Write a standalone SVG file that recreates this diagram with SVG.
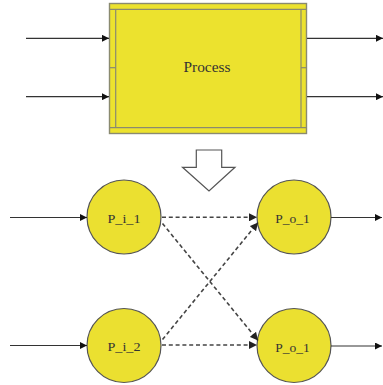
<svg xmlns="http://www.w3.org/2000/svg" width="383" height="385" viewBox="0 0 383 385">
<defs>
<marker id="ah" viewBox="0 0 10 10" refX="10" refY="5" markerWidth="7" markerHeight="7" markerUnits="userSpaceOnUse" orient="auto">
<path d="M0,0 L10,5 L0,10 Z" fill="#111"/>
</marker>
<marker id="ahd" viewBox="0 0 10 10" refX="10" refY="5" markerWidth="8" markerHeight="8" markerUnits="userSpaceOnUse" orient="auto">
<path d="M0,0 L10,5 L0,10 Z" fill="#222"/>
</marker>
</defs>
<style>
.solid{stroke:#333;stroke-width:1.2;fill:none;marker-end:url(#ah)}
.dash{stroke:#444;stroke-width:1.6;fill:none;stroke-dasharray:4 2.8;marker-end:url(#ahd)}
.circ{fill:#ebe030;stroke:#555;stroke-width:1.2}
.lbl{font-family:"Liberation Serif","DejaVu Serif",serif;font-size:13px;fill:#333;text-anchor:middle}
.inner{stroke:#8a8a70;stroke-width:1.2;fill:none}
</style>
<rect width="383" height="385" fill="#fff"/>
<g id="process">
<rect x="109.5" y="3.5" width="197" height="130" fill="#ece22e" stroke="#8a8a70" stroke-width="1.4"/>
<line class="inner" x1="109.5" y1="9.3" x2="306.5" y2="9.3"/>
<line class="inner" x1="109.5" y1="127.7" x2="306.5" y2="127.7"/>
<line class="inner" x1="115.7" y1="9.3" x2="115.7" y2="127.7"/>
<line class="inner" x1="301" y1="9.3" x2="301" y2="127.7"/>
<line class="inner" x1="109.5" y1="67.7" x2="115.7" y2="67.7"/>
<line class="inner" x1="301" y1="67.7" x2="306.5" y2="67.7"/>
<text x="207" y="72" class="lbl" style="font-size:15px" textLength="47" lengthAdjust="spacingAndGlyphs">Process</text>
</g>
<g id="transform-arrow">
<path d="M196.3,150 L221.7,150 L221.7,167.3 L235,167.3 L209,191 L182.5,167.3 L196.3,167.3 Z" fill="#fff" stroke="#555" stroke-width="1.2"/>
</g>
<g id="P_i_1">
<circle class="circ" cx="124" cy="217" r="37"/>
<text x="124" y="222.5" class="lbl" textLength="33" lengthAdjust="spacingAndGlyphs">P_i_1</text>
</g>
<g id="P_i_2">
<circle class="circ" cx="124" cy="345.5" r="37"/>
<text x="124" y="351" class="lbl" textLength="33" lengthAdjust="spacingAndGlyphs">P_i_2</text>
</g>
<g id="P_o_1_top">
<circle class="circ" cx="294" cy="217" r="37"/>
<text x="292.5" y="223" class="lbl" textLength="34.5" lengthAdjust="spacingAndGlyphs">P_o_1</text>
</g>
<g id="P_o_1_bottom">
<circle class="circ" cx="294" cy="345.5" r="37"/>
<text x="292.5" y="351.5" class="lbl" textLength="34.5" lengthAdjust="spacingAndGlyphs">P_o_1</text>
</g>
<g id="connectors">
<line class="solid" x1="26" y1="38.3" x2="109" y2="38.3"/>
<line class="solid" x1="26" y1="96.7" x2="109" y2="96.7"/>
<line class="solid" x1="307" y1="38.3" x2="383" y2="38.3"/>
<line class="solid" x1="307" y1="96.7" x2="383" y2="96.7"/>
<line class="solid" x1="10" y1="217.5" x2="87" y2="217.5"/>
<line class="solid" x1="10" y1="345.5" x2="87" y2="345.5"/>
<line class="solid" x1="331" y1="217.5" x2="382" y2="217.5"/>
<line class="solid" x1="331" y1="346" x2="382" y2="346"/>
<line class="dash" x1="162" y1="217.3" x2="257" y2="217.3"/>
<line class="dash" x1="162" y1="345" x2="257" y2="345"/>
<line class="dash" x1="162.5" y1="223.5" x2="258" y2="340.5"/>
<line class="dash" x1="162.5" y1="339.5" x2="258" y2="222.5"/>
</g>
</svg>
